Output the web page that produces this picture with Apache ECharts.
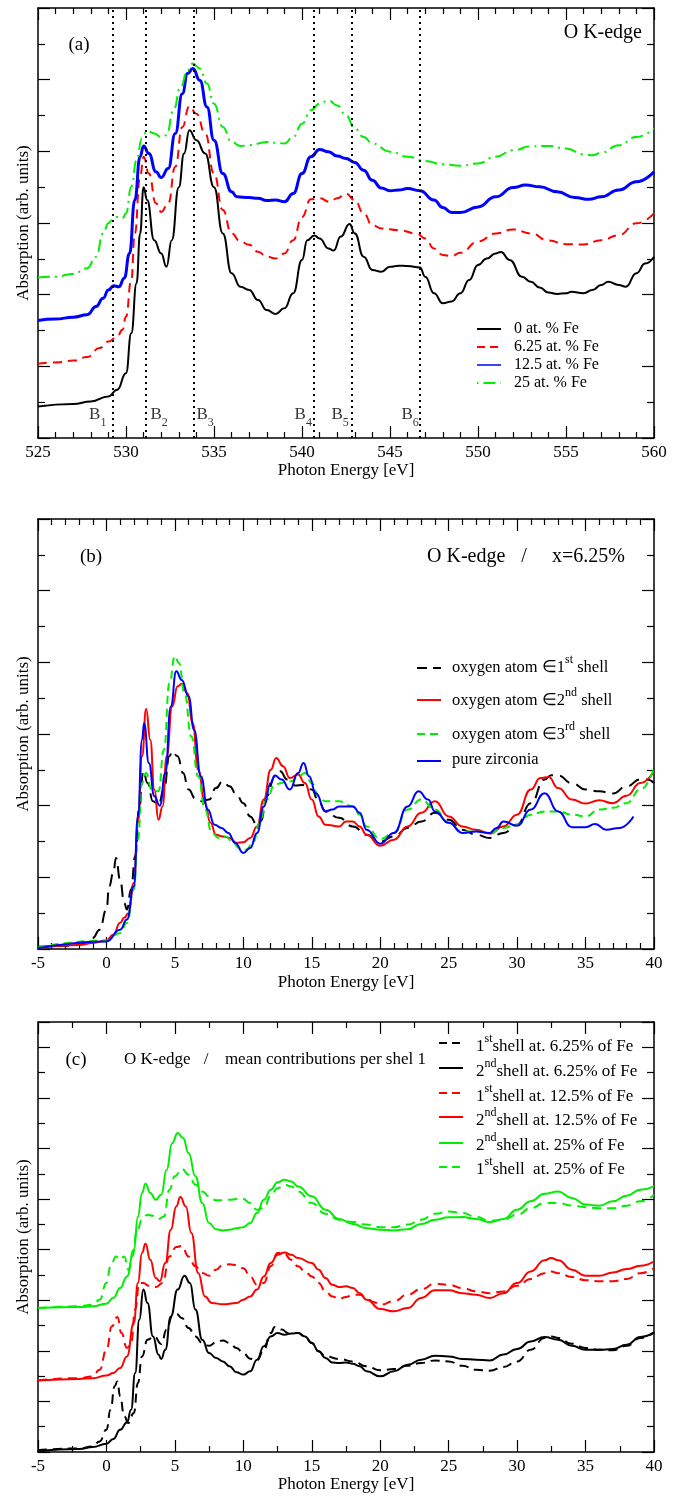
<!DOCTYPE html>
<html>
<head>
<meta charset="utf-8">
<script src="https://cdn.jsdelivr.net/npm/echarts@6/dist/echarts.min.js"></script>
<style>
  html, body { margin: 0; padding: 0; background: #fff; }
  #chart { width: 681px; height: 1496px; }
</style>
</head>
<body>
<div id="chart"></div>
<script>
// ---------- Panel (a): O K-edge spectra vs Fe content (photon energy, eV) ----------
const aFe0 = [[525,0.88],[527,0.95],[528,1.02],[529,1.16],[529.5,1.35],[530,1.81],[530.3,2.92],[530.6,4.32],[530.8,5.7],[531,7.0],[531.2,6.64],[531.6,5.52],[532,5.15],[532.3,4.78],[532.6,5.52],[533,7.0],[533.3,7.94],[533.6,8.59],[534,8.31],[534.5,7.94],[535,7.0],[535.5,5.71],[536,4.6],[536.5,4.22],[537,4.13],[537.5,3.85],[538,3.57],[538.5,3.46],[539,3.62],[539.5,4.04],[540,4.97],[540.3,5.52],[540.7,5.65],[541,5.57],[541.5,5.29],[541.8,5.23],[542.2,5.62],[542.7,5.97],[543,5.71],[543.5,5.06],[544,4.69],[544.5,4.64],[545,4.78],[545.5,4.81],[546,4.8],[546.7,4.76],[547,4.5],[547.5,4.04],[548,3.76],[548.5,3.81],[549,4.04],[549.5,4.41],[550,4.83],[550.5,5.01],[551,5.15],[551.3,5.19],[551.8,4.97],[552.5,4.5],[553,4.36],[553.5,4.2],[554,4.06],[554.5,4.02],[555,4.04],[555.3,4.08],[556,4.04],[556.5,4.13],[557,4.27],[557.4,4.36],[558,4.27],[558.4,4.22],[559,4.6],[559.5,4.87],[560,5.06]];
const aFe625 = [[525,2.07],[526,2.11],[527,2.16],[527.8,2.26],[528.5,2.51],[529,2.69],[529.5,2.83],[529.8,3.02],[530,3.39],[530.3,4.41],[530.5,5.71],[530.8,7.29],[531,7.85],[531.3,7.38],[531.7,6.55],[532,6.31],[532.4,6.55],[532.8,7.57],[533.2,8.68],[533.6,9.26],[534,9.05],[534.5,8.5],[535,7.38],[535.5,6.36],[536,5.71],[536.5,5.48],[537,5.39],[537.5,5.2],[538,5.06],[538.5,5.01],[539,5.15],[539.5,5.52],[540,6.17],[540.5,6.66],[541,6.69],[541.6,6.59],[542,6.69],[542.5,6.82],[543,6.64],[543.5,6.27],[544,5.94],[544.5,5.85],[545.5,5.8],[546.5,5.71],[547,5.57],[547.5,5.29],[548,5.11],[548.5,5.08],[549,5.17],[550,5.48],[551,5.71],[552,5.82],[553,5.71],[554,5.51],[555,5.41],[556,5.4],[557,5.52],[558,5.66],[559,5.99],[560,6.27]];
const aFe125 = [[525,3.28],[526,3.32],[527,3.37],[527.8,3.44],[528.3,3.67],[528.7,3.9],[529,4.13],[529.3,4.25],[529.6,4.22],[529.9,4.46],[530.2,5.15],[530.5,6.64],[530.8,7.85],[531,8.15],[531.3,7.94],[531.7,7.43],[532,7.27],[532.4,7.52],[532.8,8.5],[533.2,9.61],[533.5,10.17],[533.8,10.31],[534.2,9.98],[534.6,9.24],[535,8.31],[535.5,7.38],[536,6.87],[536.3,6.73],[537,6.71],[537.5,6.69],[538,6.63],[538.5,6.64],[539,6.59],[539.5,6.82],[540,7.38],[540.5,7.85],[541,8.05],[541.5,7.99],[542,7.87],[542.5,7.8],[543,7.69],[543.5,7.47],[544,7.19],[544.5,6.98],[545,6.9],[545.5,6.92],[546,6.96],[546.7,6.9],[547.5,6.64],[548,6.43],[548.5,6.29],[549,6.29],[550,6.45],[551,6.73],[552,6.99],[552.7,7.06],[553.5,7.01],[554.5,6.87],[555.5,6.71],[556.3,6.66],[557,6.73],[558,6.92],[559,7.15],[560,7.43]];
const aFe25 = [[525,4.48],[526,4.5],[527,4.58],[527.8,4.74],[528.3,5.06],[528.7,5.71],[529,5.99],[529.2,6.08],[529.5,6.17],[529.8,6.13],[530,6.27],[530.3,7.01],[530.6,7.75],[530.9,8.36],[531.2,8.57],[531.6,8.5],[532,8.4],[532.3,8.45],[532.7,9.15],[533.1,9.8],[533.5,10.26],[533.8,10.45],[534.2,10.31],[534.6,9.89],[535,9.33],[535.5,8.68],[536,8.26],[536.5,8.15],[537,8.17],[538,8.26],[538.5,8.24],[539,8.22],[539.5,8.4],[540,8.77],[540.5,9.15],[541,9.33],[541.5,9.42],[542,9.28],[542.5,9.0],[543,8.64],[543.5,8.4],[544,8.22],[545,7.99],[546,7.85],[547,7.73],[548,7.64],[549,7.6],[550,7.66],[551,7.85],[552,8.03],[553,8.14],[554,8.15],[555,8.08],[556,7.92],[556.5,7.89],[557,7.96],[558,8.17],[559,8.4],[560,8.64]];
// B1..B6 feature energies and their label anchors
const bFeatureEnergies = [529.25, 531.15, 533.84, 540.66, 542.83, 546.68];
const bLabels = [[527.9,0.58,'1'],[531.39,0.58,'2'],[534.0,0.58,'3'],[539.58,0.58,'4'],[541.67,0.58,'5'],[545.65,0.58,'6']];

// ---------- Panel (b): x = 6.25 %, per-shell oxygen contributions (relative energy, eV) ----------
const bShell1 = [[-5,0.06],[-3,0.09],[-2,0.12],[-1.5,0.17],[-1,0.31],[-0.5,0.54],[0,1.1],[0.2,1.75],[0.5,2.12],[0.7,2.54],[1.0,1.93],[1.3,1.28],[1.5,1.1],[1.8,1.66],[2.1,2.59],[2.4,3.98],[2.7,4.96],[3.0,4.63],[3.4,4.12],[3.8,4.03],[4.2,4.45],[4.6,5.38],[4.8,5.52],[5.2,5.38],[5.6,4.91],[6,4.45],[6.5,4.19],[7,4.12],[7.5,4.17],[8,4.49],[8.5,4.68],[9,4.54],[9.5,4.31],[10,4.07],[10.5,3.7],[11,3.47],[11.3,3.57],[11.7,4.26],[12.3,4.82],[12.7,4.96],[13.2,4.73],[13.8,4.56],[14.3,4.58],[15,4.45],[15.5,4.12],[16,3.84],[17,3.66],[18,3.42],[19,3.19],[20,3.0],[21,3.14],[22,3.38],[23,3.56],[24,3.8],[25,3.61],[26,3.33],[27,3.19],[28,3.1],[29,3.24],[30,3.47],[31,4.07],[32,4.73],[32.5,4.85],[33,4.84],[34,4.63],[35,4.45],[36,4.4],[37,4.34],[38,4.54],[39,4.73],[39.5,4.73],[40,4.63]];
const bShell2 = [[-5,0.03],[-2,0.11],[-1,0.17],[0,0.24],[0.5,0.4],[1,0.73],[1.3,0.87],[1.6,1.0],[2,1.84],[2.3,3.52],[2.6,5.38],[2.9,6.7],[3.2,5.84],[3.5,4.45],[3.8,3.61],[4.1,3.98],[4.4,5.38],[4.8,6.77],[5.2,7.33],[5.5,7.4],[5.9,7.14],[6.3,6.31],[6.7,5.0],[7.2,4.07],[7.6,3.52],[8,3.19],[8.5,3.14],[9,3.1],[9.5,2.96],[10,2.98],[10.5,3.1],[11,3.42],[11.5,4.17],[12,5.0],[12.4,5.33],[12.9,5.1],[13.4,4.77],[14,4.87],[14.5,4.63],[15,4.17],[15.5,3.7],[16,3.47],[17,3.42],[17.5,3.56],[18,3.56],[18.5,3.42],[19,3.19],[20,2.88],[21,3.05],[22,3.42],[23,3.8],[24,4.12],[25,3.7],[26,3.42],[27,3.33],[28,3.22],[29,3.42],[30,3.75],[31,4.45],[31.7,4.77],[32.3,4.8],[33,4.49],[34,4.17],[35,4.06],[36,4.15],[37,4.07],[38,4.28],[39,4.63],[40,4.96]];
const bShell3 = [[-5,0.04],[0,0.24],[1,0.45],[1.5,0.73],[2,1.66],[2.3,3.05],[2.6,4.63],[2.9,4.91],[3.3,4.45],[3.8,4.4],[4.2,5.56],[4.6,7.42],[5,8.17],[5.3,7.98],[5.7,7.14],[6.2,5.93],[6.7,4.82],[7.2,3.89],[7.7,3.24],[8.2,3.1],[8.7,3.14],[9.2,3.0],[9.7,2.82],[10.2,2.77],[10.7,2.96],[11.2,3.52],[11.7,4.17],[12.3,4.59],[13,4.65],[13.5,4.68],[14,4.82],[14.5,4.91],[15,4.63],[15.5,4.26],[16,4.12],[17,4.12],[18,3.98],[18.5,3.75],[19,3.42],[20,3.07],[21,3.24],[22,3.89],[23,4.17],[24,3.89],[25,3.52],[26,3.28],[27,3.28],[28,3.24],[29,3.38],[30,3.47],[31,3.75],[32,3.84],[33,3.84],[34,3.75],[35,3.7],[36,3.89],[37,3.94],[38,4.07],[39,4.45],[40,5.05]];
const bPureZirconia = [[-5,0.02],[0,0.21],[1,0.54],[1.5,0.82],[2,1.75],[2.3,3.7],[2.6,5.84],[2.75,6.3],[3.1,5.19],[3.5,4.26],[3.9,4.0],[4.3,4.91],[4.7,6.77],[5.1,7.75],[5.5,7.51],[6,7.05],[6.4,6.12],[6.9,4.82],[7.4,3.89],[7.9,3.47],[8.4,3.38],[8.9,3.24],[9.4,2.96],[10,2.68],[10.5,2.82],[11,3.24],[11.5,3.98],[12,4.63],[12.3,4.84],[12.8,4.73],[13.4,4.45],[14,4.91],[14.4,5.19],[14.8,4.82],[15.3,4.35],[16,3.84],[16.5,3.89],[17,3.98],[18,3.98],[18.5,3.8],[19,3.33],[20,2.94],[21,3.24],[22,3.98],[22.8,4.4],[23.5,4.17],[24,3.84],[25,3.52],[26,3.24],[27,3.28],[28,3.24],[28.5,3.38],[29,3.56],[30,3.44],[31,3.89],[32,4.35],[33,3.84],[34,3.4],[35,3.4],[35.7,3.49],[36.5,3.33],[37.5,3.38],[38.5,3.7]];

// ---------- Panel (c): mean contributions per shell (relative energy, eV) ----------
const cShell1Fe625 = [[-5,0.07],[-2,0.14],[-1,0.22],[-0.5,0.42],[0,0.88],[0.3,1.67],[0.6,2.6],[0.8,2.79],[1.0,2.2],[1.3,1.41],[1.6,1.15],[2,1.54],[2.3,2.73],[2.6,3.78],[3,4.44],[3.5,4.57],[4,4.27],[4.4,4.84],[4.8,5.36],[5.1,5.47],[5.5,5.3],[6,4.9],[6.5,4.57],[7,4.31],[7.5,4.2],[8,4.33],[8.5,4.41],[9,4.31],[9.5,4.11],[10,3.91],[10.5,3.69],[11,3.62],[11.5,4.04],[12,4.7],[12.3,4.94],[12.8,4.84],[13.3,4.7],[14,4.7],[14.5,4.57],[15,4.31],[15.5,3.98],[16,3.78],[17,3.68],[18,3.58],[19,3.39],[20,3.23],[21,3.28],[22,3.41],[23,3.52],[24,3.62],[25,3.58],[26,3.41],[27,3.25],[28,3.21],[29,3.36],[30,3.58],[31,4.04],[32,4.51],[32.5,4.57],[33,4.51],[34,4.28],[35,4.11],[36,4.04],[37,4.02],[38,4.2],[39,4.51],[40,4.73]];
const cShell2Fe625 = [[-5,0.04],[-2,0.12],[-1,0.2],[0,0.33],[0.5,0.51],[1,0.88],[1.5,1.17],[1.8,1.67],[2.1,3.12],[2.4,5.23],[2.7,6.42],[3.0,5.89],[3.4,4.57],[3.8,3.85],[4.0,3.68],[4.3,4.04],[4.7,5.36],[5.2,6.42],[5.7,6.97],[6.1,6.68],[6.5,5.63],[7,4.44],[7.5,3.91],[8,3.72],[8.5,3.58],[9,3.39],[9.5,3.15],[10,3.06],[10.5,3.19],[11,3.65],[11.5,4.18],[12,4.57],[12.5,4.7],[13,4.64],[13.5,4.68],[14,4.7],[14.5,4.57],[15,4.31],[15.5,3.98],[16,3.72],[16.5,3.54],[17,3.52],[17.5,3.54],[18,3.49],[18.5,3.39],[19,3.19],[20,2.99],[21,3.19],[22,3.45],[23,3.65],[24,3.81],[25,3.78],[26,3.68],[27,3.65],[28,3.62],[29,3.85],[30,4.07],[31,4.37],[32,4.55],[33,4.44],[34,4.2],[35,4.04],[36,4.04],[37,4.07],[38,4.24],[39,4.55],[40,4.73]];
const cShell1Fe125 = [[-5,2.83],[-2,2.92],[-1,2.99],[-0.5,3.25],[0,4.04],[0.4,4.97],[0.8,5.34],[1.1,4.7],[1.5,4.11],[1.8,4.31],[2.1,5.63],[2.4,6.68],[2.7,6.68],[3.1,6.57],[3.6,6.52],[4.1,6.68],[4.6,7.73],[5.1,8.1],[5.5,8.15],[6,7.73],[6.5,7.34],[7,7.08],[7.5,6.97],[8,7.21],[8.5,7.39],[9,7.42],[9.5,7.39],[10,7.26],[10.5,6.94],[11,6.61],[11.5,6.68],[12,7.34],[12.5,7.87],[12.9,7.89],[13.5,7.6],[14,7.34],[14.5,7.14],[15,6.94],[15.5,6.68],[16,6.35],[16.5,6.15],[17,6.05],[17.5,6.13],[18,6.22],[18.5,6.22],[19,6.09],[19.5,5.93],[20,5.82],[21,5.96],[22,6.22],[23,6.44],[24,6.65],[25,6.61],[26,6.48],[27,6.35],[28,6.28],[29,6.35],[30,6.57],[31,6.84],[32,7.07],[32.5,7.14],[33,7.07],[34,6.92],[35,6.79],[36,6.75],[37,6.75],[38,6.84],[39,7.07],[40,7.27]];
const cShell2Fe125 = [[-5,2.83],[-2,2.89],[-1,2.92],[0,3.02],[0.5,3.12],[1,3.32],[1.5,3.78],[2,5.1],[2.3,6.68],[2.6,7.87],[2.85,8.23],[3.2,7.6],[3.6,6.88],[3.9,6.75],[4.3,7.47],[4.7,8.79],[5.1,9.71],[5.4,10.08],[5.8,9.71],[6.2,8.66],[6.7,7.08],[7.2,6.15],[7.7,5.89],[8.5,5.84],[9.5,5.89],[10,6.02],[10.5,6.15],[11,6.42],[11.5,6.94],[12,7.47],[12.5,7.8],[13,7.89],[13.5,7.8],[14,7.67],[15,7.47],[15.5,7.21],[16,6.88],[16.5,6.61],[17,6.52],[17.5,6.55],[18,6.48],[18.5,6.28],[19,6.02],[20,5.65],[21,5.56],[22,5.69],[23,6.09],[24,6.39],[25,6.39],[26,6.28],[27,6.22],[28,6.09],[29,6.28],[30,6.68],[31,7.14],[32,7.58],[32.5,7.67],[33,7.58],[34,7.21],[35,6.97],[36,6.97],[37,7.1],[38,7.23],[39,7.36],[40,7.54]];
const cShell2Fe25 = [[-5,5.69],[-2,5.73],[-1,5.76],[0,5.86],[0.5,6.09],[1,6.48],[1.5,6.94],[2,8.0],[2.3,9.31],[2.6,10.24],[2.85,10.61],[3.2,10.24],[3.6,9.97],[4,10.17],[4.4,11.16],[4.8,12.21],[5.2,12.61],[5.6,12.41],[6,11.82],[6.5,10.9],[7,9.84],[7.5,9.05],[8,8.81],[8.5,8.76],[9,8.79],[9.5,8.85],[10,8.89],[10.5,9.05],[11,9.45],[11.5,9.97],[12,10.37],[12.5,10.66],[13,10.76],[13.5,10.69],[14,10.5],[15,10.11],[16,9.58],[17,9.21],[18,9.01],[19,8.85],[20,8.79],[21,8.76],[22,8.81],[23,9.01],[24,9.18],[25,9.28],[26,9.29],[27,9.21],[28,9.09],[29,9.21],[30,9.58],[31,9.91],[32,10.21],[33,10.3],[34,10.04],[35,9.78],[36,9.74],[37,9.91],[38,10.13],[39,10.37],[40,10.5]];
const cShell1Fe25 = [[-5,5.69],[-2,5.76],[-1,5.82],[-0.5,6.02],[0,6.68],[0.3,7.34],[0.7,7.73],[1.0,7.6],[1.3,7.73],[1.6,7.21],[1.9,7.73],[2.2,8.66],[2.6,9.18],[3.0,9.38],[3.4,9.34],[3.8,9.21],[4.2,9.31],[4.6,10.37],[5,10.9],[5.5,11.19],[6,10.96],[6.5,10.57],[7,10.3],[7.5,10.11],[8,9.95],[8.5,9.95],[9,9.97],[9.5,10.0],[10,10.0],[10.5,9.84],[11,9.58],[11.5,9.64],[12,10.13],[12.5,10.43],[13,10.57],[13.5,10.5],[14,10.3],[15,9.84],[16,9.42],[17,9.18],[18,9.09],[19,8.99],[20,8.89],[21,8.89],[22,8.99],[23,9.18],[24,9.42],[25,9.51],[26,9.45],[27,9.29],[28,9.14],[29,9.18],[30,9.38],[31,9.64],[32,9.84],[33,9.84],[34,9.74],[35,9.68],[36,9.64],[37,9.64],[38,9.74],[39,9.91],[40,10.17]];

// ---------- styling helpers ----------
const FONT = '"Liberation Serif", "Times New Roman", serif';
const GREEN = '#00ee00';
const PLOT_LEFT = 38, PLOT_W = 616, PLOT_H = 430;
const gridTops = [8, 519, 1022];

function xAxisPair(grid, min, max, interval, minorSplit, nameGap) {
  const common = {
    gridIndex: grid, type: 'value', min: min, max: max, interval: interval,
    axisLine: { show: true, onZero: false, lineStyle: { color: '#000', width: 1.5 } },
    axisTick: { show: true, inside: true, length: 12, lineStyle: { color: '#000', width: 1.2 } },
    minorTick: { show: true, splitNumber: minorSplit, length: 6, lineStyle: { color: '#000', width: 1.2 } },
    splitLine: { show: false }, minorSplitLine: { show: false }
  };
  return [
    Object.assign({}, common, {
      position: 'bottom',
      axisLabel: { show: true, fontFamily: FONT, fontSize: 17, color: '#000', margin: 6 },
      name: 'Photon Energy [eV]', nameLocation: 'middle', nameGap: nameGap,
      nameTextStyle: { fontFamily: FONT, fontSize: 17, color: '#000' }
    }),
    Object.assign({}, common, { position: 'top', axisLabel: { show: false } })
  ];
}
function yAxisPair(grid, max, interval) {
  const common = {
    gridIndex: grid, type: 'value', min: 0, max: max, interval: interval,
    axisLine: { show: true, onZero: false, lineStyle: { color: '#000', width: 1.5 } },
    axisTick: { show: true, inside: true, length: 12, lineStyle: { color: '#000', width: 1.2 } },
    minorTick: { show: true, splitNumber: 2, length: 7, lineStyle: { color: '#000', width: 1.2 } },
    splitLine: { show: false }, minorSplitLine: { show: false },
    axisLabel: { show: false }
  };
  return [
    Object.assign({}, common, {
      position: 'left',
      name: 'Absorption (arb. units)', nameLocation: 'middle', nameGap: 6,
      nameTextStyle: { fontFamily: FONT, fontSize: 17, color: '#000' }
    }),
    Object.assign({}, common, { position: 'right' })
  ];
}
function curve(name, data, grid, color, dash, width) {
  return {
    name: name, type: 'line', data: data,
    xAxisIndex: grid * 2, yAxisIndex: grid * 2,
    showSymbol: false, smooth: 0.5, smoothMonotone: 'x',
    lineStyle: { color: color, width: width || 2, type: dash || 'solid' },
    silent: true
  };
}

const series = [
  curve('0 at. % Fe', aFe0, 0, '#000', 'solid', 2),
  curve('6.25 at. % Fe', aFe625, 0, '#ff0000', [9, 6], 2),
  curve('12.5 at. % Fe', aFe125, 0, '#0000ff', 'solid', 3),
  curve('25 at. % Fe', aFe25, 0, GREEN, [12, 5, 2, 5], 2),
  {
    name: 'features', type: 'scatter', xAxisIndex: 0, yAxisIndex: 0,
    data: bLabels, symbolSize: 0, silent: true,
    label: {
      show: true, position: 'inside', align: 'left',
      formatter: p => '{b|B}{s|' + p.value[2] + '}',
      rich: {
        b: { fontFamily: FONT, fontSize: 17, color: '#000', lineHeight: 17, verticalAlign: 'top' },
        s: { fontFamily: FONT, fontSize: 12, color: '#000', lineHeight: 23, verticalAlign: 'bottom' }
      }
    },
    markLine: {
      silent: true, symbol: ['none', 'none'], animation: false,
      label: { show: false },
      lineStyle: { color: '#000', width: 2, type: [2, 4] },
      data: bFeatureEnergies.map(e => ({ xAxis: e }))
    }
  },
  curve('oxygen atom 1st shell', bShell1, 1, '#000', [12, 7], 2),
  curve('oxygen atom 2nd shell', bShell2, 1, '#ff0000', 'solid', 2),
  curve('oxygen atom 3rd shell', bShell3, 1, GREEN, [8, 5], 2),
  curve('pure zirconia', bPureZirconia, 1, '#0000ff', 'solid', 2),
  curve('1st shell at. 6.25% of Fe', cShell1Fe625, 2, '#000', [9, 6], 2),
  curve('2nd shell at. 6.25% of Fe', cShell2Fe625, 2, '#000', 'solid', 2),
  curve('1st shell at. 12.5% of Fe', cShell1Fe125, 2, '#ff0000', [9, 6], 2),
  curve('2nd shell at. 12.5% of Fe', cShell2Fe125, 2, '#ff0000', 'solid', 2),
  curve('2nd shell at. 25% of Fe', cShell2Fe25, 2, GREEN, 'solid', 2),
  curve('1st shell at. 25% of Fe', cShell1Fe25, 2, GREEN, [9, 6], 2)
];

// ---------- annotation text & hand-laid legends ----------
function txt(x, y, text, size, align) {
  return { type: 'text', x: x, y: y, silent: true,
    style: { text: text, fontFamily: FONT, fontSize: size || 17, fill: '#000',
             align: align || 'left', verticalAlign: 'middle' } };
}
function richTxt(x, y, text, size) {
  const s = size || 17;
  return { type: 'text', x: x, y: y, silent: true,
    style: { text: text, align: 'left', verticalAlign: 'middle', fill: '#000',
      rich: {
        m: { fontFamily: FONT, fontSize: s, color: '#000', lineHeight: s + 5, verticalAlign: 'bottom' },
        u: { fontFamily: FONT, fontSize: 12, color: '#000', lineHeight: 12, verticalAlign: 'top' }
      } } };
}
function key(x1, x2, y, color, dash, width) {
  return { type: 'line', silent: true, shape: { x1: x1, y1: y, x2: x2, y2: y },
    style: { stroke: color, lineWidth: width || 2, lineDash: dash || null } };
}

const graphics = [
  txt(79, 45, '(a)', 19, 'center'), txt(642, 33, 'O K-edge', 20, 'right'),
  key(477, 501, 329, '#000'), txt(514, 329, '0 at. % Fe', 16),
  key(477, 501, 347, '#ff0000', [8, 5]), txt(514, 347, '6.25 at. % Fe', 16),
  key(477, 501, 365, '#0000ff', null, 1.5), txt(514, 365, '12.5 at. % Fe', 16),
  key(477, 501, 383, GREEN, [1.5, 5, 12, 5]), txt(514, 383, '25 at. % Fe', 16),

  txt(91, 557, '(b)', 19, 'center'),
  txt(427, 557, 'O K-edge', 20), txt(524, 557, '/', 20, 'center'), txt(625, 557, 'x=6.25%', 20, 'right'),
  key(417, 441, 668, '#000', [10, 6]), richTxt(452, 665, '{m|oxygen atom ∈1}{u|st}{m| shell}', 16.5),
  key(417, 441, 700, '#ff0000'), richTxt(452, 698, '{m|oxygen atom ∈2}{u|nd}{m| shell}', 16.5),
  key(417, 441, 734, GREEN, [8, 5]), richTxt(452, 732, '{m|oxygen atom ∈3}{u|rd}{m| shell}', 16.5),
  key(417, 441, 761, '#0000ff'), txt(452, 760, 'pure zirconia', 16.5),

  txt(76, 1060, '(c)', 19, 'center'),
  txt(124, 1060, 'O K-edge', 17), txt(206, 1060, '/', 17, 'center'),
  txt(426, 1060, 'mean contributions per shel 1', 17, 'right'),
  key(439, 463, 1043, '#000', [8, 5]), richTxt(476, 1044, '{m|1}{u|st}{m|shell at. 6.25% of Fe}', 17),
  key(439, 463, 1068, '#000'), richTxt(476, 1069, '{m|2}{u|nd}{m|shell at. 6.25% of Fe}', 17),
  key(439, 463, 1093, '#ff0000', [8, 5]), richTxt(476, 1094, '{m|1}{u|st}{m|shell at. 12.5% of Fe}', 17),
  key(439, 463, 1117, '#ff0000'), richTxt(476, 1118, '{m|2}{u|nd}{m|shell at. 12.5% of Fe}', 17),
  key(439, 463, 1143, GREEN), richTxt(476, 1143, '{m|2}{u|nd}{m|shell at. 25% of Fe}', 17),
  key(439, 463, 1167, GREEN, [8, 5]), richTxt(476, 1167, '{m|1}{u|st}{m|shell  at. 25% of Fe}', 17)
];

const chart = echarts.init(document.getElementById('chart'), null, { renderer: 'canvas' });
chart.setOption({
  animation: false,
  backgroundColor: '#fff',
  grid: gridTops.map(t => ({ left: PLOT_LEFT, top: t, width: PLOT_W, height: PLOT_H,
    outerBoundsMode: 'none', containLabel: false, show: false })),
  xAxis: [].concat(xAxisPair(0, 525, 560, 5, 5, 21), xAxisPair(1, -5, 40, 5, 5, 25), xAxisPair(2, -5, 40, 5, 2, 21)),
  yAxis: [].concat(yAxisPair(0, 12, 2), yAxisPair(1, 12, 2), yAxisPair(2, 17, 2)),
  series: series,
  graphic: graphics
});
</script>
</body>
</html>
